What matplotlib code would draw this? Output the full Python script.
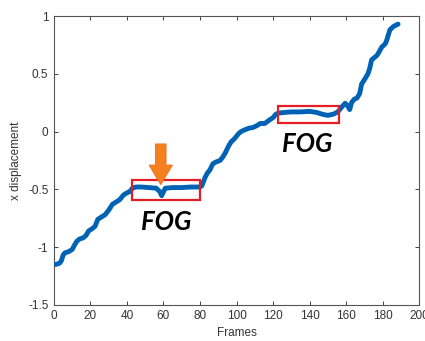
import numpy as np
import matplotlib.pyplot as plt
from matplotlib.patches import Rectangle, FancyArrow

# x displacement per frame
frames = [1, 3, 4, 5, 6, 8, 10, 11, 12.5, 14, 16, 17.5, 19, 21, 22.5, 24, 26, 28,
          30, 32, 34, 36, 38, 40, 41.5, 43, 45, 48, 52, 56, 58, 59, 60, 61, 65, 70,
          75, 80, 81, 82.7, 84, 85.5, 87, 88.5, 91, 92.5, 94, 95.5, 97, 99, 101,
          102.5, 104.5, 107, 109, 111, 113, 115.5, 118, 120, 121.5, 123, 126, 130,
          135, 140, 144, 147, 150, 153, 155.5, 157.5, 159.5, 161, 162, 163, 164.5,
          166, 167.5, 168.5, 170.5, 172, 173, 174, 175.5, 177, 178.5, 179.5, 181.5,
          182.5, 184, 186, 188.5]
x_disp = [-1.15, -1.14, -1.12, -1.07, -1.05, -1.04, -1.02, -0.99, -0.95, -0.93,
          -0.92, -0.90, -0.86, -0.84, -0.82, -0.76, -0.74, -0.72, -0.68, -0.63,
          -0.61, -0.59, -0.55, -0.53, -0.52, -0.49, -0.48, -0.48, -0.485, -0.49,
          -0.52, -0.555, -0.52, -0.49, -0.485, -0.485, -0.48, -0.48, -0.47, -0.40,
          -0.36, -0.33, -0.28, -0.265, -0.25, -0.22, -0.18, -0.13, -0.09, -0.06,
          -0.02, 0.0, 0.015, 0.03, 0.035, 0.05, 0.07, 0.07, 0.10, 0.12, 0.15, 0.16,
          0.165, 0.17, 0.17, 0.175, 0.165, 0.15, 0.14, 0.15, 0.17, 0.21, 0.245,
          0.22, 0.19, 0.25, 0.28, 0.29, 0.33, 0.41, 0.46, 0.50, 0.55, 0.62, 0.64,
          0.66, 0.70, 0.73, 0.76, 0.80, 0.88, 0.91, 0.93]

# freezing-of-gait windows: (start frame, end frame, low, high)
fog_boxes = [(42.5, 80, -0.59, -0.42), (123, 156, 0.072, 0.22)]
fog_labels = [(61.7, -0.78), (138.5, -0.107)]

xticks = [0, 20, 40, 60, 80, 100, 120, 140, 160, 180, 200]
yticks = [-1.5, -1, -0.5, 0, 0.5, 1]

plt.rcParams['font.family'] = ['Liberation Sans', 'DejaVu Sans']

fig = plt.figure(figsize=(4.25, 3.41), dpi=100)
ax = fig.add_axes([0.127, 0.106, 0.859, 0.847])

ax.plot(frames, x_disp, color='#0062B4', lw=3.5, solid_capstyle='round',
        solid_joinstyle='round', zorder=3)

for x0, x1, y0, y1 in fog_boxes:
    ax.add_patch(Rectangle((x0, y0), x1 - x0, y1 - y0, fill=False,
                           edgecolor='#E41E25', lw=1.6, zorder=4))

for fx, fy in fog_labels:
    ax.text(fx, fy, 'FOG', ha='center', va='center', fontsize=18.5,
            fontweight='bold', fontstyle='italic', family=['Lato', 'DejaVu Sans'],
            color='black', zorder=5)

# orange arrow pointing at the dip
ax.add_patch(FancyArrow(58.5, -0.107, 0, -0.353, width=5.8, head_width=12.8,
                        head_length=0.17, length_includes_head=True,
                        facecolor='#F7801E', edgecolor='#F26A1B', lw=0.6, zorder=6))

ax.set_xlim(0, 200)
ax.set_ylim(-1.5, 1)
ax.set_xticks(xticks)
ax.set_yticks(yticks)
ax.set_yticklabels(['-1.5', '-1', '-0.5', '0', '0.5', '1'])
ax.tick_params(direction='in', top=True, right=True, length=3, width=0.7,
               labelsize=8.5, colors='#404040', labelcolor='#333333', pad=4)
for s in ax.spines.values():
    s.set_color('#555555')
    s.set_linewidth(0.8)

ax.set_xlabel('Frames', fontsize=8.5, color='#333333', labelpad=3)
ax.set_ylabel('x displacement', fontsize=8.5, color='#333333', labelpad=4)

fig.savefig('out.png', dpi=100)
